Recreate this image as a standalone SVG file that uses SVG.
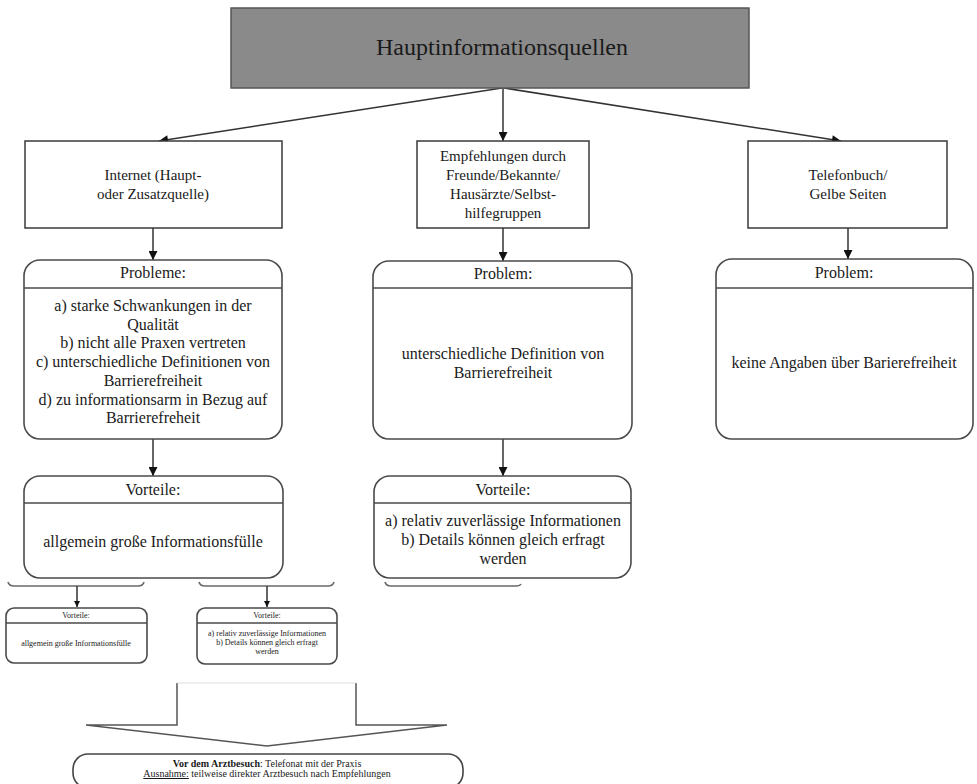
<svg xmlns="http://www.w3.org/2000/svg" width="977" height="784" viewBox="0 0 977 784">
<defs>
<style>
text{font-family:"Liberation Serif","Times New Roman",serif;fill:#1a1a1a;text-anchor:middle}
.box{fill:#fff;stroke:#3a3a3a;stroke-width:1.5}
.rbox{fill:#fff;stroke:#4a4a4a;stroke-width:1.6}
.sep{stroke:#4a4a4a;stroke-width:1.5}
.con{stroke:#333;stroke-width:1.5;fill:none}
.br{stroke:#6a6a6a;stroke-width:1.6;fill:none}
.t16{font-size:16px}
.t15{font-size:15px}
.t8{font-size:8px}
</style>
<marker id="ah" viewBox="0 0 10 10" refX="10" refY="5" markerWidth="11" markerHeight="9" markerUnits="userSpaceOnUse" orient="auto">
<path d="M0,0 L10,5 L0,10 z" fill="#111"/>
</marker>
<marker id="ahs" viewBox="0 0 10 10" refX="10" refY="5" markerWidth="7" markerHeight="6" markerUnits="userSpaceOnUse" orient="auto">
<path d="M0,0 L10,5 L0,10 z" fill="#111"/>
</marker>
</defs>
<rect width="977" height="784" fill="#fff"/>

<g id="connectors">
<line class="con" x1="502" y1="88" x2="159" y2="141" marker-end="url(#ah)"/>
<line class="con" x1="503" y1="88" x2="503" y2="141" marker-end="url(#ah)"/>
<line class="con" x1="504" y1="88" x2="841" y2="141" marker-end="url(#ah)"/>
<line class="con" x1="153" y1="228" x2="153" y2="260" marker-end="url(#ah)"/>
<line class="con" x1="503" y1="228" x2="503" y2="261" marker-end="url(#ah)"/>
<line class="con" x1="848" y1="228" x2="848" y2="259" marker-end="url(#ah)"/>
<line class="con" x1="153" y1="439" x2="153" y2="476" marker-end="url(#ah)"/>
<line class="con" x1="503" y1="439" x2="503" y2="476" marker-end="url(#ah)"/>
<path class="br" d="M8,582 Q9,586 14,586 L138,586 Q143,586 144,582"/>
<path class="br" d="M199,582 Q200,586 205,586 L328,586 Q333,586 334,582"/>
<path class="br" d="M385,582 Q386,586 391,586 L516,586 Q520,586 521,584"/>
<line class="con" x1="77" y1="586" x2="77" y2="607" stroke-width="1.2" marker-end="url(#ahs)"/>
<line class="con" x1="267" y1="586" x2="267" y2="607" stroke-width="1.2" marker-end="url(#ahs)"/>
</g>

<g id="n-top">
<rect x="231" y="8" width="518" height="80" fill="#8a8a8a" stroke="#555" stroke-width="1.5"/>
<text x="502" y="55" style="font-size:24px">Hauptinformationsquellen</text>
</g>

<g id="n-internet">
<rect class="box" x="25" y="141" width="257" height="87"/>
<text class="t15" x="153" y="180">Internet (Haupt-</text>
<text class="t15" x="153" y="199">oder Zusatzquelle)</text>
</g>

<g id="n-empfehlungen">
<rect class="box" x="417" y="141" width="172" height="87"/>
<text class="t15" x="503" y="161">Empfehlungen durch</text>
<text class="t15" x="503" y="180">Freunde/Bekannte/</text>
<text class="t15" x="503" y="199">Hausärzte/Selbst-</text>
<text class="t15" x="503" y="218">hilfegruppen</text>
</g>

<g id="n-telefonbuch">
<rect class="box" x="748" y="141" width="199" height="87"/>
<text class="t15" x="848" y="180">Telefonbuch/</text>
<text class="t15" x="848" y="199">Gelbe Seiten</text>
</g>

<g id="n-probleme-internet">
<rect class="rbox" x="24" y="260" width="258" height="179" rx="16"/>
<line class="sep" x1="24" y1="288" x2="282" y2="288"/>
<text class="t16" x="153" y="278">Probleme:</text>
<text class="t16" x="153" y="311">a) starke Schwankungen in der</text>
<text class="t16" x="153" y="329.7">Qualität</text>
<text class="t16" x="153" y="348.4">b) nicht alle Praxen vertreten</text>
<text class="t16" x="153" y="367.1">c) unterschiedliche Definitionen von</text>
<text class="t16" x="153" y="385.8">Barrierefreiheit</text>
<text class="t16" x="153" y="404.5">d) zu informationsarm in Bezug auf</text>
<text class="t16" x="153" y="423.2">Barrierefreheit</text>
</g>

<g id="n-problem-empfehlungen">
<rect class="rbox" x="373" y="261" width="259" height="178" rx="16"/>
<line class="sep" x1="373" y1="288" x2="632" y2="288"/>
<text class="t16" x="503" y="279">Problem:</text>
<text class="t16" x="503" y="359">unterschiedliche Definition von</text>
<text class="t16" x="503" y="378">Barrierefreiheit</text>
</g>

<g id="n-problem-telefonbuch">
<rect class="rbox" x="716" y="259" width="257" height="180" rx="16"/>
<line class="sep" x1="716" y1="288" x2="973" y2="288"/>
<text class="t16" x="844" y="278">Problem:</text>
<text class="t16" x="844" y="368">keine Angaben über Barierefreiheit</text>
</g>

<g id="n-vorteile-internet">
<rect class="rbox" x="24" y="476" width="259" height="102" rx="16"/>
<line class="sep" x1="24" y1="503" x2="283" y2="503"/>
<text class="t16" x="153" y="495">Vorteile:</text>
<text class="t16" x="153" y="547">allgemein große Informationsfülle</text>
</g>

<g id="n-vorteile-empfehlungen">
<rect class="rbox" x="374" y="476" width="257" height="102" rx="16"/>
<line class="sep" x1="374" y1="503" x2="631" y2="503"/>
<text class="t16" x="503" y="495">Vorteile:</text>
<text class="t16" x="503" y="526">a) relativ zuverlässige Informationen</text>
<text class="t16" x="503" y="545">b) Details können gleich erfragt</text>
<text class="t16" x="503" y="564">werden</text>
</g>

<g id="n-small-left">
<rect class="rbox" x="6" y="608" width="141" height="55" rx="8" stroke-width="1.3"/>
<line class="sep" x1="6" y1="623" x2="147" y2="623" stroke-width="1.2"/>
<text class="t8" x="76" y="618">Vorteile:</text>
<text class="t8" x="76" y="646">allgemein große Informationsfülle</text>
</g>

<g id="n-small-right">
<rect class="rbox" x="197" y="608" width="140" height="56" rx="8" stroke-width="1.3"/>
<line class="sep" x1="197" y1="623" x2="337" y2="623" stroke-width="1.2"/>
<text class="t8" x="267" y="618">Vorteile:</text>
<text class="t8" x="267" y="636">a) relativ zuverlässige Informationen</text>
<text class="t8" x="267" y="645">b) Details können gleich erfragt</text>
<text class="t8" x="267" y="654">werden</text>
</g>

<g id="n-blockarrow">
<path d="M177,683 L356,683 L356,725 L447,725 L267,746 L86,725 L177,725 Z" fill="#fff" stroke="none"/>
<path d="M177,683 L177,725 L86,725 L267,746 L447,725 L356,725 L356,683" fill="none" stroke="#555" stroke-width="1.5" stroke-linejoin="miter"/>
<line x1="177" y1="683" x2="356" y2="683" stroke="#ddd" stroke-width="1"/>
</g>

<g id="n-result">
<rect x="73" y="754" width="390" height="34" rx="15" fill="#fff" stroke="#444" stroke-width="1.6"/>
<text x="267" y="767" style="font-size:10px"><tspan font-weight="bold">Vor dem Arztbesuch</tspan>: Telefonat mit der Praxis</text>
<text x="267" y="777" style="font-size:10px"><tspan text-decoration="underline">Ausnahme:</tspan> teilweise direkter Arztbesuch nach Empfehlungen</text>
</g>
</svg>
